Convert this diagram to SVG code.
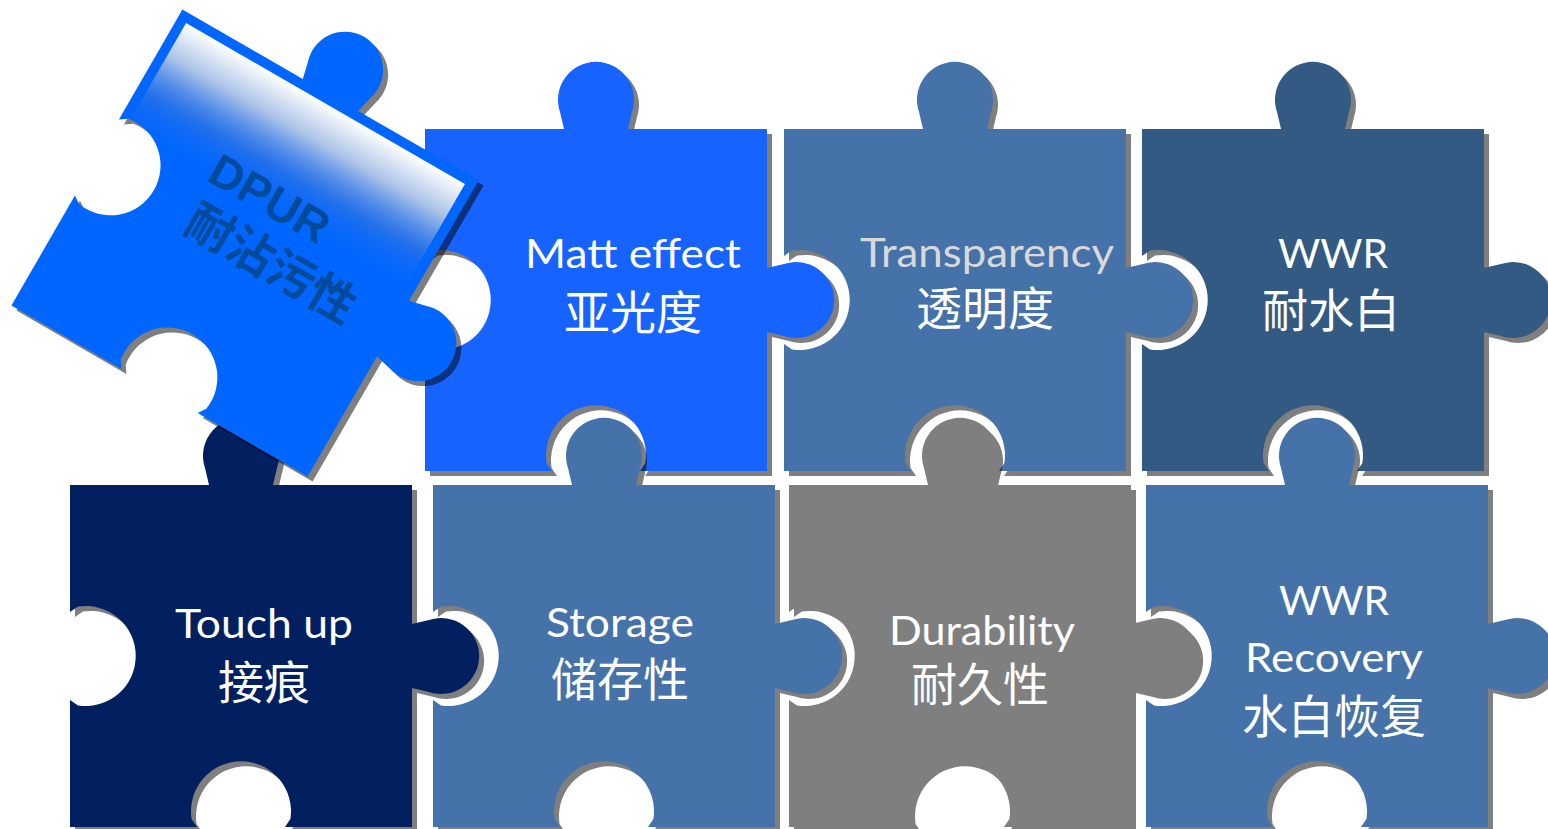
<svg xmlns="http://www.w3.org/2000/svg" xmlns:xlink="http://www.w3.org/1999/xlink" width="1548" height="829" viewBox="0 0 1548 829">
<style>
.sh{fill:#000;fill-opacity:0.5}
.en{font-family:Lato,"Open Sans","Noto Sans",sans-serif;font-size:40px;fill:#FFFFFF;text-anchor:middle}
.zh{font-family:"Noto Sans CJK SC","Noto Sans",sans-serif;font-size:46px;fill:#FFFFFF;text-anchor:middle}
.dp{font-family:"Liberation Sans",Arial,sans-serif;font-weight:bold;font-size:46px;fill:#024A9C}
.dz{font-family:"Noto Sans CJK SC",sans-serif;font-weight:bold;font-size:47px;fill:#024A9C}
</style>
<defs>
<path id="pc" d="M0,0 H139 l-4,-17 a38,38 0 1 1 72,0 l-4,17 H342 V139 l17,-4 a38,38 0 1 1 0,72 l-17,-4 V342 H215 l5.4,-8 a50,50 0 1 0 -98.8,0 l5.4,8 H0 V215 l8,5.4 a50,50 0 1 0 0,-98.8 l-8,5.4 Z"/>
<clipPath id="pclip"><use href="#pc"/></clipPath>
<linearGradient id="gl" gradientUnits="userSpaceOnUse" x1="0" y1="10" x2="0" y2="135">
<stop offset="0" stop-color="#FFFFFF" stop-opacity="1"/>
<stop offset="0.3" stop-color="#B4C8E6" stop-opacity="0.95"/>
<stop offset="0.65" stop-color="#3F78DA" stop-opacity="0.55"/>
<stop offset="1" stop-color="#0066FF" stop-opacity="0"/>
</linearGradient>
</defs>
<g id="connectors"></g>
<g id="node-matt">
<use href="#pc" class="sh" transform="translate(430,134)"/>
<use href="#pc" fill="#1763FF" transform="translate(425,129)"/>
<text class="en" x="633" y="268" textLength="216" lengthAdjust="spacingAndGlyphs">Matt effect</text>
<text class="zh" x="633" y="329">亚光度</text>
</g>
<g id="node-transparency">
<use href="#pc" class="sh" transform="translate(789,134)"/>
<use href="#pc" fill="#4472A9" transform="translate(784,129)"/>
<text class="en" x="987" y="267" textLength="254" lengthAdjust="spacingAndGlyphs" style="fill:#D9D9D9">Transparency</text>
<text class="zh" x="985" y="325">透明度</text>
</g>
<g id="node-wwr">
<use href="#pc" class="sh" transform="translate(1147,134)"/>
<use href="#pc" fill="#335A83" transform="translate(1142,129)"/>
<text class="en" x="1333" y="268" textLength="110" lengthAdjust="spacingAndGlyphs">WWR</text>
<text class="zh" x="1331" y="327">耐水白</text>
</g>
<g id="node-touchup">
<use href="#pc" class="sh" transform="translate(75,490)"/>
<use href="#pc" fill="#021F5F" transform="translate(70,485)"/>
<text class="en" x="264" y="638" textLength="178" lengthAdjust="spacingAndGlyphs">Touch up</text>
<text class="zh" x="264" y="699">接痕</text>
</g>
<g id="node-storage">
<use href="#pc" class="sh" transform="translate(438,490)"/>
<use href="#pc" fill="#4472A9" transform="translate(433,485)"/>
<text class="en" x="620" y="637" textLength="148" lengthAdjust="spacingAndGlyphs">Storage</text>
<text class="zh" x="620" y="696">储存性</text>
</g>
<g id="node-durability">
<use href="#pc" class="sh" transform="translate(794,490)"/>
<use href="#pc" fill="#7F7F7F" transform="translate(789,485)"/>
<text class="en" x="982" y="645" textLength="186" lengthAdjust="spacingAndGlyphs">Durability</text>
<text class="zh" x="980" y="701">耐久性</text>
</g>
<g id="node-wwr-recovery">
<use href="#pc" class="sh" transform="translate(1151,490)"/>
<use href="#pc" fill="#4472A9" transform="translate(1146,485)"/>
<text class="en" x="1334" y="615" textLength="110" lengthAdjust="spacingAndGlyphs">WWR</text>
<text class="en" x="1334" y="672" textLength="178" lengthAdjust="spacingAndGlyphs">Recovery</text>
<text class="zh" x="1334" y="733">水白恢复</text>
</g>
<g id="node-dpur">
<g transform="translate(250,248) rotate(30) translate(-171,-171)">
<use href="#pc" class="sh"/>
</g>
<g transform="translate(245,243) rotate(30) translate(-171,-171)">
<use href="#pc" fill="#0066FF"/>
<rect x="10" y="10" width="322" height="200" fill="url(#gl)" clip-path="url(#pclip)"/>
<text class="dp" x="105" y="136">DPUR</text>
<text class="dz" x="110" y="192">耐沾污性</text>
</g>
</g>
</svg>
